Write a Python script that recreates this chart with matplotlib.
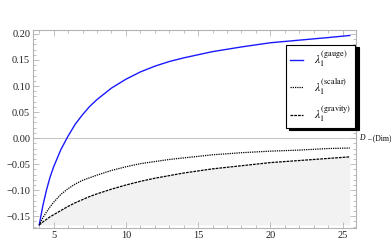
import matplotlib
matplotlib.use('Agg')
import matplotlib.pyplot as plt
from matplotlib.ticker import MultipleLocator

# values
dim = [4, 4.25, 4.5, 4.75, 5, 5.5, 6, 6.5, 7, 7.5, 8, 9, 10, 11, 12, 13, 14,
       16, 18, 20, 22, 24, 25.5]
lam_gauge = [-0.1667, -0.130, -0.100, -0.075, -0.055, -0.022, 0.004, 0.027,
             0.045, 0.061, 0.074, 0.096, 0.113, 0.127, 0.138, 0.147, 0.154,
             0.166, 0.175, 0.183, 0.188, 0.193, 0.197]
lam_scalar = [-0.1667, -0.153, -0.142, -0.132, -0.123, -0.108, -0.097,
              -0.088, -0.081, -0.076, -0.071, -0.062, -0.055, -0.049, -0.045,
              -0.041, -0.038, -0.032, -0.028, -0.025, -0.023, -0.020, -0.019]
lam_gravity = [-0.1667, -0.161, -0.156, -0.151, -0.147, -0.139, -0.131,
               -0.124, -0.118, -0.112, -0.107, -0.098, -0.090, -0.083, -0.077,
               -0.072, -0.067, -0.059, -0.053, -0.047, -0.043, -0.039, -0.036]
labels = [r'$\lambda_1^{(\mathrm{gauge})}$', r'$\lambda_1^{(\mathrm{scalar})}$',
          r'$\lambda_1^{(\mathrm{gravity})}$']

plt.rcParams['font.family'] = ['Liberation Serif', 'DejaVu Serif']
plt.rcParams['mathtext.fontset'] = 'stix'

fig = plt.figure(figsize=(3.91, 2.5), dpi=100)
ax = fig.add_axes([33 / 391, 22 / 250, 323 / 391, 198 / 250])

frame_col = '#b4b4b4'
ax.axhline(0, color='#c8c8c8', lw=0.8, zorder=1)
ax.fill_between(dim, lam_gravity, min(lam_gravity), color='#f2f2f2', lw=0, zorder=0)
ax.plot(dim, lam_gauge, color='#1a1aff', lw=1.0, label=labels[0], zorder=3)
ax.plot(dim, lam_scalar, color='black', lw=0.9, ls=(0, (1, 0.8)), label=labels[1], zorder=3)
ax.plot(dim, lam_gravity, color='black', lw=0.9, ls=(0, (2.2, 0.8)), label=labels[2], zorder=3)

ax.set_xlim(3.57, 25.93)
ax.set_ylim(-0.1725, 0.2075)
ax.xaxis.set_major_locator(MultipleLocator(5))
ax.xaxis.set_minor_locator(MultipleLocator(1))
ax.yaxis.set_major_locator(MultipleLocator(0.05))
ax.yaxis.set_minor_locator(MultipleLocator(0.01))
ax.yaxis.set_major_formatter(lambda v, p: f'{v:.2f}'.replace('-', '\u2212'))
for s in ax.spines.values():
    s.set_color(frame_col)
    s.set_linewidth(0.8)
ax.tick_params(which='both', direction='in', top=True, right=True,
               color=frame_col, labelsize=7.5, labelcolor='#222222', width=0.6)
ax.tick_params(which='major', length=4, pad=2)
ax.tick_params(which='minor', length=2)

# axis label at the right end of the zero line
fig.text(359 / 391, 112 / 250, 'D', fontsize=5.5, style='italic', ha='left', va='center')
fig.text(367 / 391, 112 / 250, '\u2013 (Dim)', fontsize=5.5, ha='left', va='center')

leg = ax.legend(loc='upper left', bbox_to_anchor=(0.783, 0.924), borderaxespad=0,
                fontsize=8.5, handlelength=1.1, handletextpad=0.9, labelspacing=0.6,
                borderpad=0.35, fancybox=False, framealpha=1,
                shadow={'color': 'black', 'alpha': 1, 'ox': 2.5, 'oy': -1.5})
leg.get_frame().set_edgecolor('black')
leg.get_frame().set_linewidth(0.8)
leg.set_zorder(5)

fig.savefig('out.png', dpi=100)
